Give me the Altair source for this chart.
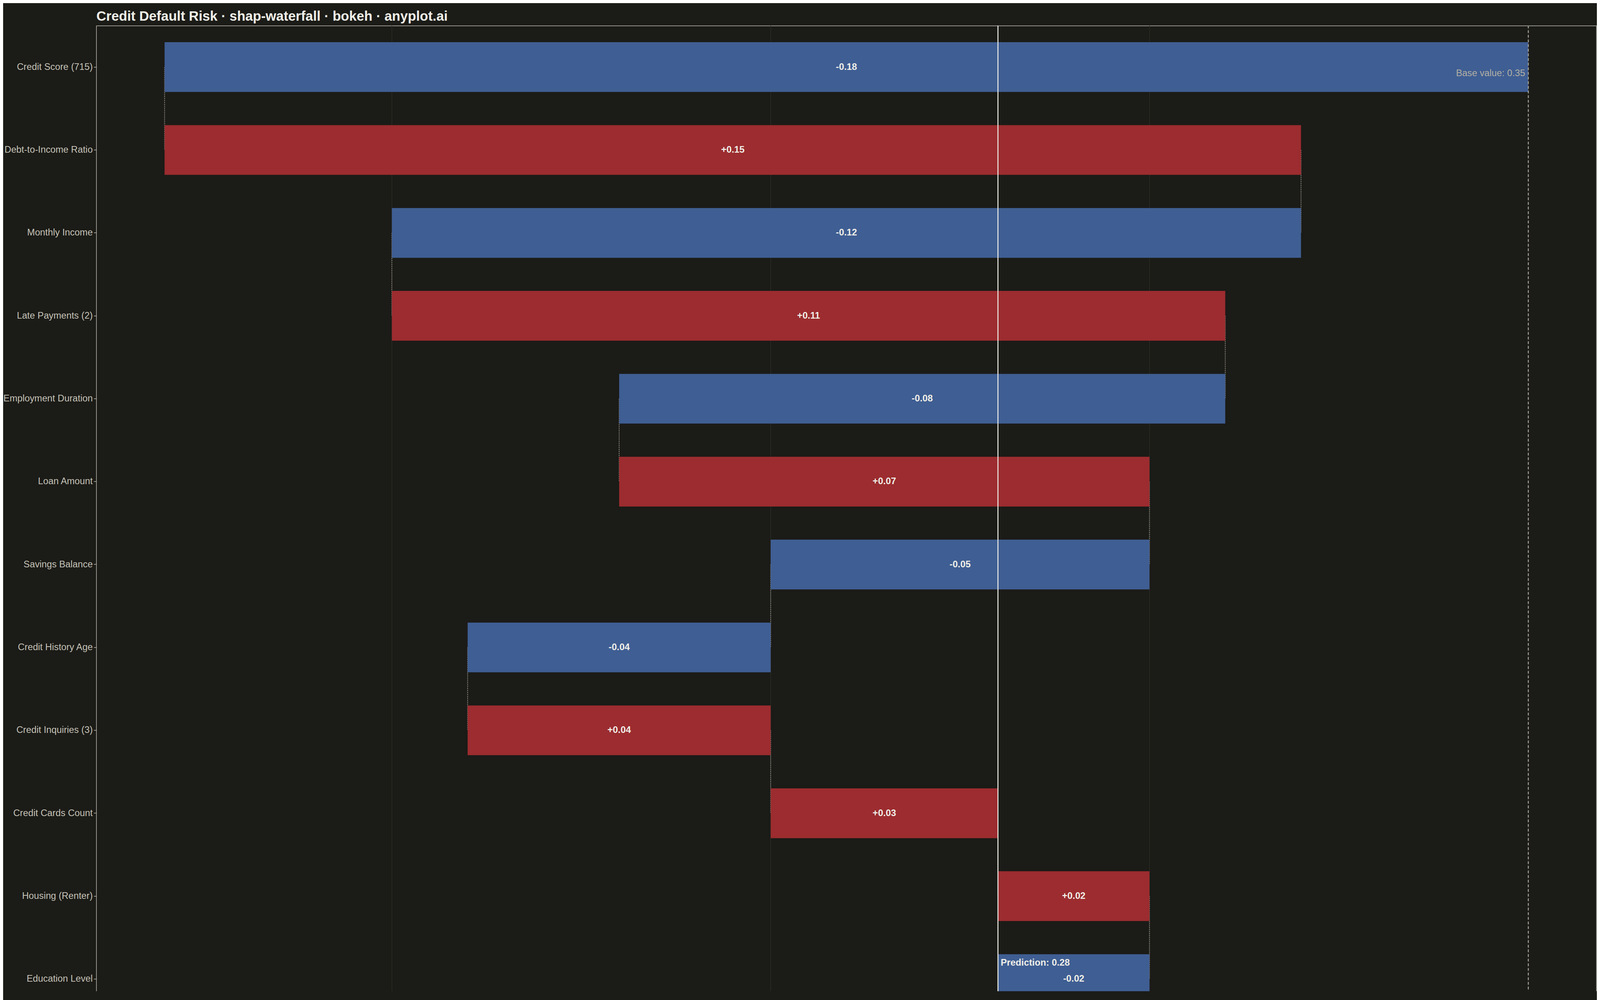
import altair as alt
import pandas as pd

# ---- data ----
FEATURES = [
    "Credit Score (715)",
    "Debt-to-Income Ratio",
    "Monthly Income",
    "Late Payments (2)",
    "Employment Duration",
    "Loan Amount",
    "Savings Balance",
    "Credit History Age",
    "Credit Inquiries (3)",
    "Credit Cards Count",
    "Housing (Renter)",
    "Education Level",
]
SHAP_VALUES = [-0.18, 0.15, -0.12, 0.11, -0.08, 0.07, -0.05, -0.04, 0.04, 0.03, 0.02, -0.02]
BASE_VALUE = 0.35
X_DOMAIN = [0.161, 0.359]
GRID_TICKS = [0.20, 0.25, 0.30, 0.35]

TITLE = "Credit Default Risk · shap-waterfall · bokeh · anyplot.ai"

# ---- styling ----
BG = "#1b1b17"
BLUE = "#3f5e93"
RED = "#9c2c2f"
TEXT = "#f0efe8"
LABEL = "#c6c3b8"
FRAME = "#bdbab0"
FONT = "Liberation Sans Narrow, Liberation Sans, sans-serif"
ROW_STEP = 214.3          # pixel height of one feature row (as in the reference)
PLOT_W = 3876
PLOT_H = 2496             # visible plot height (reference is cut at the window bottom)

# ---- derived tables ----
starts, ends = [], []
v = BASE_VALUE
for s in SHAP_VALUES:
    starts.append(v)
    v = v + s
    ends.append(v)
prediction = ends[-1]

bars = pd.DataFrame({
    "feature": FEATURES,
    "shap": SHAP_VALUES,
    "start": starts,
    "end": ends,
    "mid": [(a + b) / 2 for a, b in zip(starts, ends)],
    "label": [f"{s:+.2f}" for s in SHAP_VALUES],
    "dir": ["pos" if s > 0 else "neg" for s in SHAP_VALUES],
})

connectors = pd.DataFrame({
    "feature": FEATURES[:-1],
    "next": FEATURES[1:],
    "x": ends[:-1],
})

grid_df = pd.DataFrame({"x": GRID_TICKS})
base_df = pd.DataFrame({"x": [BASE_VALUE], "feature": [FEATURES[0]],
                        "text": [f"Base value: {BASE_VALUE:.2f}"]})
pred_df = pd.DataFrame({"x": [prediction], "feature": [FEATURES[-1]],
                        "text": [f"Prediction: {prediction:.2f}"]})
frame_df = pd.DataFrame({"x": X_DOMAIN})

x_scale = alt.Scale(domain=X_DOMAIN, nice=False, zero=False)
x_axis = alt.Axis(orient="top", values=GRID_TICKS, grid=False, labels=False, ticks=False,
                  title=None, domain=True, domainColor=FRAME, domainWidth=1.5)
y_scale = alt.Scale(domain=FEATURES, paddingInner=0.4, paddingOuter=0.2,
                    range=[0, ROW_STEP * len(FEATURES)])
y_axis = alt.Axis(title=None, labelFontSize=24, labelColor=LABEL, labelFont=FONT,
                  labelPadding=3, labelLimit=0, tickSize=7, tickColor=FRAME,
                  domain=False, tickWidth=1.5, grid=False, minExtent=201, maxExtent=201)


def X(field):
    return alt.X(field, scale=x_scale, axis=x_axis)


def Y(field="feature:N"):
    return alt.Y(field, scale=y_scale, axis=y_axis, sort=FEATURES)


grid_layer = alt.Chart(grid_df).mark_rule(color="#2c2c27", strokeWidth=1.5).encode(x=X("x:Q"))

conn_layer = alt.Chart(connectors).mark_rule(
    color="#8a877d", strokeWidth=2, strokeDash=[3, 2], clip=True
).encode(x=X("x:Q"), y=Y("feature:N"), y2="next:N")

bar_layer = alt.Chart(bars).mark_bar(clip=True).encode(
    x=X("start:Q"),
    x2="end:Q",
    y=Y(),
    color=alt.Color("dir:N", scale=alt.Scale(domain=["neg", "pos"], range=[BLUE, RED]),
                    legend=None),
)

base_rule = alt.Chart(base_df).mark_rule(
    color="#a6a398", strokeWidth=2.5, strokeDash=[7, 5]
).encode(x=X("x:Q"))

pred_rule = alt.Chart(pred_df).mark_rule(color=TEXT, strokeWidth=2.5).encode(x=X("x:Q"))

frame_rule = alt.Chart(frame_df).mark_rule(color=FRAME, strokeWidth=1.5).encode(x=X("x:Q"))

bar_text = alt.Chart(bars).mark_text(
    font=FONT, fontSize=24, fontWeight="bold", color=TEXT, baseline="middle", clip=True
).encode(x=X("mid:Q"), y=Y(), text="label:N")

base_text = alt.Chart(base_df).mark_text(
    font=FONT, fontSize=24, color="#b3b0a5", align="right", baseline="middle", dx=-8, dy=16
).encode(x=X("x:Q"), y=Y(), text="text:N")

pred_text = alt.Chart(pred_df).mark_text(
    font=FONT, fontSize=24, fontWeight="bold", color=TEXT, align="left",
    baseline="middle", dx=7, dy=-42
).encode(x=X("x:Q"), y=Y(), text="text:N")

chart = alt.layer(
    grid_layer, conn_layer, bar_layer, base_rule, pred_rule, frame_rule,
    bar_text, base_text, pred_text
).properties(
    width=PLOT_W,
    height=PLOT_H,
    title=alt.TitleParams(TITLE, anchor="start", frame="group", fontSize=35,
                          fontWeight="bold", color=TEXT, font=FONT, offset=5),
    background=BG,
    padding={"left": 0, "top": 4, "right": 0, "bottom": 0},
).configure_view(
    stroke=None
).configure_axis(
    labelFont=FONT
)

chart.save("out.html", embed_options={"renderer": "svg", "actions": False})
